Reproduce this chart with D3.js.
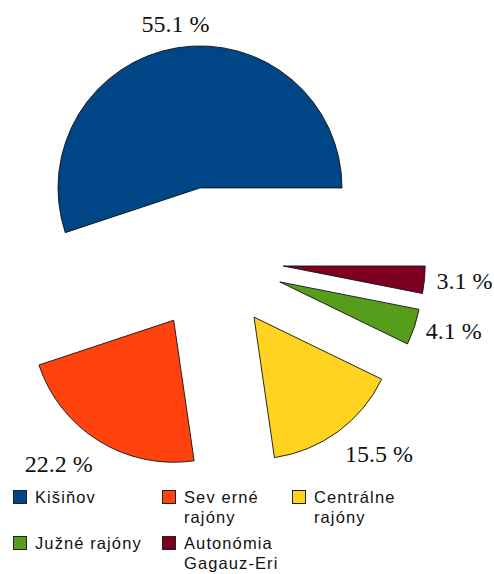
<!DOCTYPE html>
<html>
<head>
<meta charset="utf-8">
<script src="https://cdn.jsdelivr.net/npm/d3@7"></script>
<style>
  body { margin: 0; background: #fff; }
  svg { display: block; }
</style>
</head>
<body>
<svg id="chart" width="494" height="574"></svg>
<script>
// data
var categories = ["Kišiňov", "Sev erné rajóny", "Centrálne rajóny", "Južné rajóny", "Autonómia Gagauz-Eri"];
var values = [55.1, 22.2, 15.5, 4.1, 3.1];
var colors = ["#004586", "#ff420e", "#ffd320", "#579d1c", "#7e0021"];

var svg = d3.select("#chart");

var cx = 211.5, cy = 259, radius = 142, explode = 72, gap = 12;

// slices go counter-clockwise starting at 3 o'clock
var pie = d3.pie()
    .sort(null)
    .startAngle(Math.PI / 2)
    .endAngle(Math.PI / 2 - 2 * Math.PI);

var arc = d3.arc().innerRadius(0).outerRadius(radius);

var arcs = pie(values);

function dir(d) {
    var a = (d.startAngle + d.endAngle) / 2;
    return [Math.sin(a), -Math.cos(a)];
}

var slices = svg.append("g")
    .selectAll("g")
    .data(arcs)
    .enter()
    .append("g")
    .attr("transform", function(d) {
        var u = dir(d);
        return "translate(" + (cx + explode * u[0]) + "," + (cy + explode * u[1]) + ")";
    });

slices.append("path")
    .attr("d", arc)
    .attr("fill", function(d, i) { return colors[i]; })
    .attr("stroke", "#111")
    .attr("stroke-width", 0.9)
    .attr("stroke-linejoin", "round");

var fmt = d3.format(".1f");

slices.append("text")
    .attr("font-family", "'Liberation Serif', 'Times New Roman', serif")
    .attr("font-size", 24)
    .attr("fill", "#111")
    .attr("x", function(d) { return (radius + gap) * dir(d)[0]; })
    .attr("y", function(d) {
        var u = dir(d), py = (radius + gap) * u[1];
        if (u[1] > 0.5) return py + 21;
        if (u[1] < -0.5) return py - 4;
        return py + 8;
    })
    .attr("text-anchor", function(d) {
        var ux = dir(d)[0];
        return ux > 0.3 ? "start" : (ux < -0.3 ? "end" : "middle");
    })
    .text(function(d) { return fmt(d.data) + " %"; });

// legend
var colX = [13, 162, 292];
var rowY = [490, 536];
var lineH = 20;

var legend = svg.append("g")
    .attr("font-family", "'Liberation Sans', Arial, sans-serif")
    .attr("font-size", 16.5)
    .attr("letter-spacing", 1.1);

categories.forEach(function(name, i) {
    var col = i % 3, row = Math.floor(i / 3);
    var x = colX[col], y = rowY[row];
    var item = legend.append("g");
    item.append("rect")
        .attr("x", x + 0.5)
        .attr("y", y + 0.5)
        .attr("width", 13)
        .attr("height", 13)
        .attr("fill", colors[i])
        .attr("stroke", "#222")
        .attr("stroke-width", 1);

    var maxW = col < 2 ? colX[col + 1] - (x + 22) - 8 : 100;
    var text = item.append("text")
        .attr("x", x + 22)
        .attr("y", y + 13)
        .attr("fill", "#111");

    // word wrap into the column width
    var words = name.split(" "), line = [], lineNo = 0;
    var tspan = text.append("tspan").attr("x", x + 22).attr("y", y + 13);
    words.forEach(function(w) {
        line.push(w);
        tspan.text(line.join(" "));
        if (tspan.node().getComputedTextLength() > maxW && line.length > 1) {
            line.pop();
            tspan.text(line.join(" "));
            line = [w];
            lineNo++;
            tspan = text.append("tspan")
                .attr("x", x + 22)
                .attr("y", y + 13 + lineNo * lineH)
                .text(w);
        }
    });
});
</script>
</body>
</html>
